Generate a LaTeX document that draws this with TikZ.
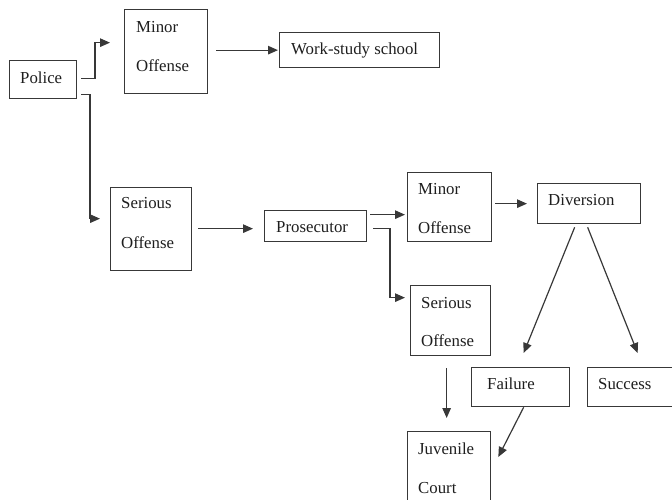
\documentclass[tikz,border=0pt]{standalone}
\usepackage{fontspec}
\setmainfont{Liberation Serif}
\usetikzlibrary{arrows.meta}
\definecolor{linec}{HTML}{383838}
\definecolor{textc}{HTML}{1E1E1E}
\begin{document}
\begin{tikzpicture}[x=1pt,y=-1pt,
  box/.style={draw=linec,line width=1.3pt,rectangle,inner sep=0pt,anchor=north west},
  txt/.style={anchor=base west,inner sep=0pt,text=textc,font=\fontsize{16.8}{20}\selectfont},
  arr/.style={draw=linec,line width=1.2pt,-{Triangle[length=10pt,width=8.5pt]}}]
\useasboundingbox (0,0) rectangle (672,499);
\clip (0,0) rectangle (672,499);
% boxes
\node[box,minimum width=67pt,minimum height=38pt] (police) at (9,60) {};
\node[box,minimum width=83pt,minimum height=84pt] (minor1) at (124,9) {};
\node[box,minimum width=160pt,minimum height=35pt] (work) at (279,32) {};
\node[box,minimum width=81pt,minimum height=83pt] (serious1) at (110,187) {};
\node[box,minimum width=102pt,minimum height=31pt] (prosecutor) at (264,210) {};
\node[box,minimum width=84pt,minimum height=69pt] (minor2) at (407,172) {};
\node[box,minimum width=103pt,minimum height=40pt] (diversion) at (537,183) {};
\node[box,minimum width=80pt,minimum height=70pt] (serious2) at (410,285) {};
\node[box,minimum width=98pt,minimum height=39pt] (failure) at (471,367) {};
\node[box,minimum width=93pt,minimum height=39pt] (success) at (587,367) {};
\node[box,minimum width=83pt,minimum height=80pt] (juvenile) at (407,431) {};
% texts
\node[txt] (t-police) at (20,83) {Police};
\node[txt] (t-minor1a) at (136,32) {Minor};
\node[txt] (t-minor1b) at (136,71) {Offense};
\node[txt] (t-work) at (291,54) {Work-study school};
\node[txt] (t-ser1a) at (121,208) {Serious};
\node[txt] (t-ser1b) at (121,248) {Offense};
\node[txt] (t-pros) at (276,232) {Prosecutor};
\node[txt] (t-minor2a) at (418,194) {Minor};
\node[txt] (t-minor2b) at (418,233) {Offense};
\node[txt] (t-div) at (548,205) {Diversion};
\node[txt] (t-ser2a) at (421,308) {Serious};
\node[txt] (t-ser2b) at (421,346) {Offense};
\node[txt] (t-fail) at (487,389) {Failure};
\node[txt] (t-succ) at (598,389) {Success};
\node[txt] (t-juv1) at (418,454) {Juvenile};
\node[txt] (t-juv2) at (418,493) {Court};
% connectors
\draw[arr] ([xshift=4pt,yshift=1pt]police.east) -| ([xshift=-29pt,yshift=9pt]minor1.west) -- ([xshift=-14pt,yshift=9pt]minor1.west);
\draw[arr] ([xshift=8pt,yshift=1.5pt]minor1.east) -- ([xshift=-1pt]work.west);
\draw[arr] ([xshift=4pt,yshift=5pt]police.south east) -| ([xshift=-20pt,yshift=10.5pt]serious1.west) -- ([xshift=-10pt,yshift=10.5pt]serious1.west);
\draw[arr] ([xshift=6pt,yshift=0.5pt]serious1.east) -- ([xshift=-11pt,yshift=-2.5pt]prosecutor.west);
\draw[arr] ([xshift=3pt,yshift=11.5pt]prosecutor.east) -- ([xshift=-2pt,yshift=-7.5pt]minor2.west);
\draw[arr] ([xshift=6pt,yshift=-2.5pt]prosecutor.east) -| ([xshift=-20pt,yshift=23pt]serious2.west) -- ([xshift=-5pt,yshift=23pt]serious2.west);
\draw[arr] ([xshift=3pt,yshift=3.5pt]minor2.east) -- ([xshift=-10pt]diversion.west);
\draw[arr] ([xshift=-14.5pt,yshift=-3pt]diversion.south) -- ([xshift=3pt,yshift=14pt]failure.north);
\draw[arr] ([xshift=-1.5pt,yshift=-3pt]diversion.south) -- ([xshift=3.5pt,yshift=14pt]success.north);
\draw[arr] ([xshift=-4pt,yshift=-12pt]serious2.south) -- ([xshift=-2.5pt,yshift=13pt]juvenile.north);
\draw[arr] ([xshift=3pt]failure.south) -- ([xshift=7pt,yshift=-26pt]juvenile.north east);
\end{tikzpicture}
\end{document}
